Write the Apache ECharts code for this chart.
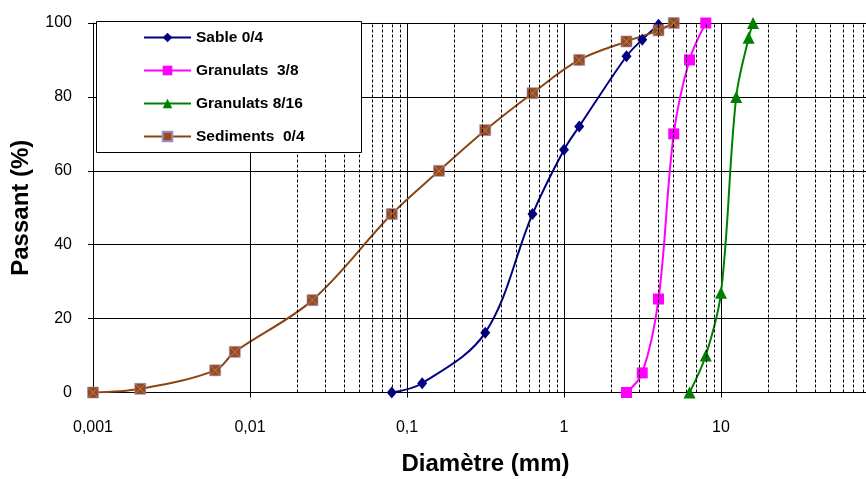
<!DOCTYPE html>
<html>
<head>
<meta charset="utf-8">
<script src="https://cdn.jsdelivr.net/npm/echarts@6/dist/echarts.min.js"></script>
<style>html,body{margin:0;padding:0;background:#fff;}#c{width:866px;height:479px;}</style>
</head>
<body>
<div id="c"></div>
<script>
// ---- data ----
var sableX = [0.08, 0.125, 0.315, 0.63, 1, 1.25, 2.5, 3.15, 4];
var sableY = [0, 2.5, 16.2, 48.3, 65.7, 72, 91, 95.5, 99.5];
var gr38X = [2.5, 3.15, 4, 5, 6.3, 8];
var gr38Y = [0, 5.3, 25.3, 70, 90, 100];
var gr816X = [6.3, 8, 10, 12.5, 15, 16];
var gr816Y = [0, 10, 27, 80, 96, 100];
var sedX = [0.001, 0.002, 0.006, 0.008, 0.025, 0.08, 0.16, 0.315, 0.63, 1.25, 2.5, 4, 5];
var sedY = [0, 1, 6, 11, 25, 48.3, 60, 71, 81, 90, 95, 98, 100];
var seriesNames = ['Sable 0/4', 'Granulats  3/8', 'Granulats 8/16', 'Sediments  0/4'];
var xTickLabels = {0.001: '0,001', 0.01: '0,01', 0.1: '0,1', 1: '1', 10: '10', 100: ''};
var yTicks = [0, 20, 40, 60, 80, 100];

function pairs(xs, ys) { return xs.map(function (x, i) { return [x, ys[i]]; }); }

// minor vertical grid positions (2..9 of each decade)
var minorGrid = [];
[0.001, 0.01, 0.1, 1, 10].forEach(function (d) {
  for (var k = 2; k <= 9; k++) minorGrid.push({ xAxis: +(d * k).toPrecision(3) });
});

var font = '"Liberation Sans", Arial, sans-serif';
var chart = echarts.init(document.getElementById('c'), null, { renderer: 'canvas' });
var SM = 0.35;
chart.setOption({
  animation: false,
  backgroundColor: '#fff',
  grid: { left: 93, top: 23, width: 785, height: 369.5, containLabel: false, outerBoundsMode: 'none' },
  xAxis: {
    type: 'log', logBase: 10, min: 0.001, max: 100,
    name: 'Diamètre (mm)', nameLocation: 'middle', nameGap: 60,
    nameTextStyle: { fontFamily: font, fontWeight: 'bold', fontSize: 24, color: '#000' },
    axisLine: { lineStyle: { color: '#000', width: 1 } },
    axisTick: { show: true, length: 5, lineStyle: { color: '#000' } },
    axisLabel: { margin: 27, fontFamily: font, fontSize: 16, color: '#000',
      formatter: function (v) { var k = +v.toPrecision(3); return xTickLabels[k] !== undefined ? xTickLabels[k] : ''; } },
    splitLine: { show: true, lineStyle: { color: '#000', width: 1 } }
  },
  yAxis: {
    type: 'value', min: 0, max: 100, interval: 20,
    name: 'Passant (%)', nameLocation: 'middle', nameGap: 60,
    nameTextStyle: { fontFamily: font, fontWeight: 'bold', fontSize: 24, color: '#000' },
    axisLine: { show: true, lineStyle: { color: '#000', width: 1 } },
    axisTick: { show: true, length: 5, lineStyle: { color: '#000' } },
    axisLabel: { margin: 21, fontFamily: font, fontSize: 16, color: '#000' },
    splitLine: { show: true, lineStyle: { color: '#000', width: 1 } }
  },
  legend: {
    data: seriesNames,
    orient: 'vertical', left: 143, top: 29.5, padding: 0, itemGap: 17,
    itemWidth: 47, itemHeight: 12,
    textStyle: { fontFamily: font, fontWeight: 'bold', fontSize: 15.5, color: '#000' },
    z: 10
  },
  graphic: [{
    type: 'rect', left: 96, top: 21, z: 8,
    shape: { width: 265, height: 131 },
    style: { fill: '#fff', stroke: '#000', lineWidth: 1 }
  }],
  series: [
    { type: 'line', name: '_grid', data: [], silent: true, z: 0,
      markLine: { silent: true, symbol: 'none', label: { show: false },
        lineStyle: { color: '#000', width: 1, type: [3, 2] }, data: minorGrid } },
    { type: 'line', name: seriesNames[0], data: pairs(sableX, sableY), smooth: SM,
      symbol: 'diamond', symbolSize: [10, 12],
      lineStyle: { color: '#000080', width: 2 }, itemStyle: { color: '#000080' } },
    { type: 'line', name: seriesNames[1], data: pairs(gr38X, gr38Y), smooth: SM,
      symbol: 'rect', symbolSize: 11,
      lineStyle: { color: '#FF00FF', width: 2 }, itemStyle: { color: '#FF00FF' } },
    { type: 'line', name: seriesNames[2], data: pairs(gr816X, gr816Y), smooth: SM,
      symbol: 'triangle', symbolSize: 12,
      lineStyle: { color: '#008000', width: 2 }, itemStyle: { color: '#008000' } },
    { type: 'line', name: seriesNames[3], data: pairs(sedX, sedY), smooth: SM,
      symbol: 'rect', symbolSize: 11,
      lineStyle: { color: '#8B4513', width: 2 }, itemStyle: { color: '#9C4A14', borderColor: '#9a90c8', borderWidth: 0.6 } },
    { type: 'scatter', name: '_sedx', data: pairs(sedX, sedY), silent: true, z: 3,
      symbol: 'path://M0,0L10,10M10,0L0,10', symbolSize: 10,
      itemStyle: { color: 'rgba(0,0,0,0)', borderColor: '#a69ad0', borderWidth: 0.8 } }
  ]
});
</script>
</body>
</html>
